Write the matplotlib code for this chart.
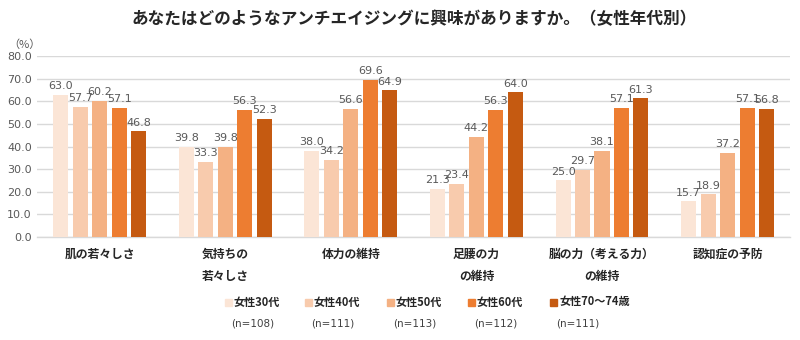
import matplotlib
matplotlib.use('Agg')
import matplotlib.pyplot as plt
import numpy as np

plt.rcParams['font.family'] = ['Noto Sans CJK JP', 'DejaVu Sans']

# survey data: interest in anti-aging topics, by age group of women
categories = ['肌の若々しさ', '気持ちの\n若々しさ', '体力の維持', '足腰の力\nの維持', '脳の力（考える力）\nの維持', '認知症の予防']
series_names = ['女性30代', '女性40代', '女性50代', '女性60代', '女性70〜74歳']
series_counts = ['(n=108)', '(n=111)', '(n=113)', '(n=112)', '(n=111)']
women_30s = [63.0, 39.8, 38.0, 21.3, 25.0, 15.7]
women_40s = [57.7, 33.3, 34.2, 23.4, 29.7, 18.9]
women_50s = [60.2, 39.8, 56.6, 44.2, 38.1, 37.2]
women_60s = [57.1, 56.3, 69.6, 56.3, 57.1, 57.1]
women_70s = [46.8, 52.3, 64.9, 64.0, 61.3, 56.8]

series_values = [women_30s, women_40s, women_50s, women_60s, women_70s]
colors = ['#FBE5D6', '#F8CBAD', '#F4B183', '#ED7D31', '#C55A11']

fig = plt.figure(figsize=(8, 3.4), dpi=100)
ax = fig.add_axes([0.046, 0.303, 0.942, 0.532])

x = np.arange(len(categories))
bar_w = 0.12
step = 0.155
for i, (vals, col) in enumerate(zip(series_values, colors)):
    pos = x + (i - 2) * step
    ax.bar(pos, vals, width=bar_w, color=col, zorder=3)
    for p, v in zip(pos, vals):
        ax.text(p, v + 1.6, '%.1f' % v, ha='center', va='bottom', fontsize=8,
                color='#595959', family=['DejaVu Sans'], zorder=4)

ax.set_ylim(0, 80)
ax.set_xlim(-0.5, len(categories) - 0.5)
ax.set_yticks(np.arange(0, 81, 10))
ax.set_yticklabels(['%.1f' % t for t in np.arange(0, 81, 10)], fontsize=8,
                   color='#595959', family=['DejaVu Sans'])
ax.yaxis.grid(True, color='#D9D9D9', linewidth=1, zorder=0)
ax.tick_params(axis='both', length=0)
ax.set_xticks(x)
ax.set_xticklabels(categories, fontsize=8.5, fontweight='bold', color='#262626',
                   linespacing=1.85, va='top')
ax.tick_params(axis='x', pad=8)
for side in ['top', 'right', 'left']:
    ax.spines[side].set_visible(False)
ax.spines['bottom'].set_color('#D9D9D9')
ax.spines['bottom'].set_linewidth(1)

fig.text(0.03, 0.87, '（%）', fontsize=8, color='#595959', ha='center', va='center')

fig.text(0.518, 0.945, 'あなたはどのようなアンチエイジングに興味がありますか。（女性年代別）',
         ha='center', va='center', fontsize=12, fontweight='bold', color='#262626')

# legend drawn by hand so that each entry gets its sample size underneath
legend_x = [225, 305, 387, 468, 550]
for lx, name, cnt, col in zip(legend_x, series_names, series_counts, colors):
    fig.patches.append(plt.Rectangle((lx / 800, (340 - 306) / 340), 7 / 800, 7 / 340,
                                     transform=fig.transFigure, color=col))
    fig.text((lx + 9) / 800, (340 - 302) / 340, name, fontsize=8,
             fontweight='bold', color='#262626', ha='left', va='center')
    fig.text((lx + 28) / 800, (340 - 323) / 340, cnt, fontsize=7.5,
             color='#404040', ha='center', va='center', family=['DejaVu Sans'])

fig.savefig('out.png', dpi=100)
